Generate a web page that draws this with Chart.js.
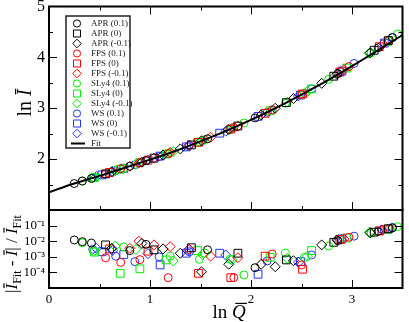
<!DOCTYPE html>
<html>
<head>
<meta charset="utf-8">
<script src="https://cdn.jsdelivr.net/npm/chart.js"></script>
<style>
  html, body { margin: 0; padding: 0; background: #fff; }
  #wrap { position: relative; width: 409px; height: 322px; }
  #wrap canvas { position: absolute; left: 0; top: 0; }
</style>
</head>
<body>
<div id="wrap">
  <canvas id="topChart" width="409" height="322"></canvas>
  <canvas id="errChart" width="409" height="322"></canvas>
</div>
<script>
// ln Q, ln I and relative error, one set of arrays per EOS / spin
var apr01Q = [0.25, 0.33, 0.42, 0.80, 0.96, 1.57, 2.04, 2.86, 3.26, 3.40];
var apr01I = [1.52, 1.57, 1.62, 1.86, 1.97, 2.40, 2.81, 3.68, 4.19, 4.39];
var apr01E = [1.2e-2, 9.3e-3, 7.6e-3, 2.5e-3, 6.3e-3, 2.8e-3, 2.0e-4, 1.1e-2, 4.2e-2, 7.1e-2];

var apr0Q = [0.56, 1.04, 1.41, 1.87, 2.35, 2.82, 3.22, 3.36];
var apr0I = [1.71, 2.02, 2.28, 2.65, 3.11, 3.63, 4.14, 4.33];
var apr0E = [5.8e-3, 2.8e-3, 3.8e-3, 1.7e-3, 6.3e-4, 8.5e-3, 3.8e-2, 6.3e-2];

var aprm01Q = [0.62, 0.92, 1.13, 1.30, 1.51, 1.78, 2.10, 2.24, 2.42, 2.70, 2.85, 3.18];
var aprm01I = [1.75, 1.94, 2.08, 2.20, 2.36, 2.58, 2.87, 3.00, 3.19, 3.49, 3.67, 4.09];
var aprm01E = [3.5e-3, 7.2e-3, 3.2e-3, 1.7e-3, 1.1e-4, 3.3e-4, 3.3e-4, 2.3e-4, 5.6e-4, 5.8e-3, 1.2e-2, 3.5e-2];

var fps01Q = [0.56, 0.71, 0.90, 1.18, 1.83, 2.21, 2.50, 2.97, 3.37];
var fps01I = [1.71, 1.81, 1.93, 2.11, 2.62, 2.97, 3.27, 3.82, 4.34];
var fps01E = [8.7e-4, 4.4e-4, 6.6e-4, 4.6e-5, 4.6e-5, 1.5e-3, 3.0e-4, 1.8e-2, 6.3e-2];

var fps0Q = [0.60, 0.98, 1.48, 1.80, 2.14, 2.51, 2.88, 3.27];
var fps0I = [1.74, 1.98, 2.33, 2.59, 2.90, 3.28, 3.71, 4.21];
var fps0E = [3.2e-3, 2.3e-3, 8.7e-5, 4.6e-5, 1.1e-3, 1.6e-4, 1.3e-2, 4.7e-2];

var fpsm01Q = [0.80, 0.89, 1.04, 1.20, 1.39, 1.60, 1.87, 2.92, 3.30];
var fpsm01I = [1.86, 1.92, 2.02, 2.13, 2.27, 2.43, 2.65, 3.76, 4.25];
var fpsm01E = [3.5e-3, 1.0e-2, 5.8e-3, 4.5e-3, 3.0e-3, 1.1e-3, 8.7e-4, 1.4e-2, 5.0e-2];

var sly01Q = [0.33, 0.44, 0.74, 1.20, 1.49, 1.54, 1.79, 1.93, 2.34, 2.53, 2.77, 3.19, 3.45];
var sly01I = [1.57, 1.64, 1.82, 2.13, 2.34, 2.38, 2.58, 2.71, 3.10, 3.30, 3.57, 4.09, 4.46];
var sly01E = [7.9e-3, 2.3e-3, 4.3e-3, 1.1e-3, 6.9e-4, 1.7e-3, 6.9e-4, 6.8e-5, 1.7e-3, 9.3e-4, 4.9e-3, 3.2e-2, 8.5e-2];

var sly0Q = [0.45, 0.705, 0.90, 1.16, 1.47, 2.19, 2.60, 2.95, 3.35];
var sly0I = [1.64, 1.80, 1.93, 2.10, 2.33, 2.95, 3.38, 3.79, 4.31];
var sly0E = [2.0e-3, 8.7e-5, 1.7e-4, 6.3e-4, 2.5e-3, 9.3e-4, 2.5e-3, 1.6e-2, 5.6e-2];

var slym01Q = [0.655, 0.86, 1.23, 1.52, 1.81, 2.36, 2.56, 3.17];
var slym01I = [1.77, 1.90, 2.15, 2.36, 2.60, 3.12, 3.33, 4.08];
var slym01E = [4.9e-3, 3.0e-3, 5.4e-4, 1.4e-3, 6.3e-4, 7.9e-4, 1.1e-3, 3.7e-2];

var ws01Q = [0.433, 0.66, 0.85, 1.09, 1.39, 2.16, 2.60, 3.02, 3.40];
var ws01I = [1.63, 1.77, 1.89, 2.05, 2.27, 2.92, 3.38, 3.88, 4.39];
var ws01E = [3.0e-3, 1.1e-3, 4.9e-4, 1.0e-3, 2.1e-3, 5.4e-4, 1.3e-3, 2.1e-2, 7.6e-2];

var ws0Q = [0.525, 0.74, 1.10, 1.36, 1.69, 2.07, 2.49, 2.90, 3.32];
var ws0I = [1.69, 1.82, 2.06, 2.24, 2.51, 2.84, 3.26, 3.73, 4.28];
var ws0E = [2.1e-3, 1.4e-3, 3.0e-4, 1.7e-3, 1.7e-3, 7.6e-5, 4.9e-4, 1.4e-2, 5.8e-2];

var wsm01Q = [0.47, 0.63, 0.98, 1.38, 1.75, 2.47, 2.89, 3.30];
var wsm01I = [1.66, 1.76, 1.98, 2.26, 2.55, 3.24, 3.72, 4.25];
var wsm01E = [3.5e-3, 2.5e-3, 1.6e-3, 2.8e-3, 1.3e-3, 4.5e-4, 1.3e-2, 5.2e-2];

// fit curve
var fitQ = [0, 0.25, 0.5, 0.75, 1, 1.25, 1.5, 1.75, 2, 2.25, 2.5, 2.75, 3, 3.25, 3.5];
var fitI = [1.35, 1.52, 1.67, 1.83, 1.99, 2.16, 2.35, 2.55, 2.77, 3.01, 3.27, 3.54, 3.83, 4.13, 4.44];

// tick labels
var xTickLabels = [0, 1, 2, 3];
var topTickLabels = [2, 3, 4, 5];
var errTickValues = [1e-4, 1e-3, 1e-2, 1e-1];

var series = [
  {label: 'APR (0.1)',   q: apr01Q,  i: apr01I,  e: apr01E,  color: '#000000', shape: 'circle'},
  {label: 'APR (0)',     q: apr0Q,   i: apr0I,   e: apr0E,   color: '#000000', shape: 'rect'},
  {label: 'APR (-0.1)',  q: aprm01Q, i: aprm01I, e: aprm01E, color: '#000000', shape: 'rectRot'},
  {label: 'FPS (0.1)',   q: fps01Q,  i: fps01I,  e: fps01E,  color: '#ff0000', shape: 'circle'},
  {label: 'FPS (0)',     q: fps0Q,   i: fps0I,   e: fps0E,   color: '#ff0000', shape: 'rect'},
  {label: 'FPS (-0.1)',  q: fpsm01Q, i: fpsm01I, e: fpsm01E, color: '#ff0000', shape: 'rectRot'},
  {label: 'SLy4 (0.1)',  q: sly01Q,  i: sly01I,  e: sly01E,  color: '#00ee00', shape: 'circle'},
  {label: 'SLy4 (0)',    q: sly0Q,   i: sly0I,   e: sly0E,   color: '#00ee00', shape: 'rect'},
  {label: 'SLy4 (-0.1)', q: slym01Q, i: slym01I, e: slym01E, color: '#00ee00', shape: 'rectRot'},
  {label: 'WS (0.1)',    q: ws01Q,   i: ws01I,   e: ws01E,   color: '#2233ff', shape: 'circle'},
  {label: 'WS (0)',      q: ws0Q,    i: ws0I,    e: ws0E,    color: '#2233ff', shape: 'rect'},
  {label: 'WS (-0.1)',   q: wsm01Q,  i: wsm01I,  e: wsm01E,  color: '#2233ff', shape: 'rectRot'}
];

var markerRadius = {circle: 4, rect: 5.5, rectRot: 5};
var serif = "'Liberation Serif', serif";
Chart.defaults.font.family = serif;

function pts(xs, ys) {
  return xs.map(function(x, k) { return {x: x, y: ys[k]}; });
}

function pointSet(s, ys) {
  return {
    label: s.label,
    data: pts(s.q, ys),
    showLine: false,
    pointStyle: s.shape,
    pointRadius: markerRadius[s.shape],
    pointBorderWidth: 1,
    borderColor: s.color,
    backgroundColor: 'rgba(0,0,0,0)'
  };
}

// inward tick marks and the box around a panel
function framePlugin(cfg) {
  return {
    id: 'frame',
    afterDraw: function(chart) {
      var ctx = chart.ctx, a = chart.chartArea;
      var xs = chart.scales.x, ys = chart.scales.y;
      ctx.save();
      ctx.strokeStyle = '#000';
      ctx.lineWidth = 1;
      function xt(list, len) {
        list.forEach(function(v) {
          var px = Math.round(xs.getPixelForValue(v)) + 0.5;
          ctx.beginPath();
          ctx.moveTo(px, a.bottom); ctx.lineTo(px, a.bottom - len);
          if (cfg.topTicks) { ctx.moveTo(px, a.top); ctx.lineTo(px, a.top + len); }
          ctx.stroke();
        });
      }
      function yt(list, len) {
        list.forEach(function(v) {
          var py = Math.round(ys.getPixelForValue(v)) + 0.5;
          ctx.beginPath();
          ctx.moveTo(a.left, py); ctx.lineTo(a.left + len, py);
          ctx.moveTo(a.right, py); ctx.lineTo(a.right - len, py);
          ctx.stroke();
        });
      }
      xt(cfg.xMajor, 8); xt(cfg.xMinor, 4);
      yt(cfg.yMajor, 8); yt(cfg.yMinor, 4);
      ctx.lineWidth = 2;
      ctx.strokeRect(a.left, a.top, a.right - a.left, a.bottom - a.top);
      ctx.restore();
    }
  };
}

function drawMarker(ctx, shape, x, y, color) {
  ctx.strokeStyle = color;
  ctx.lineWidth = 1;
  ctx.beginPath();
  if (shape === 'circle') {
    ctx.arc(x, y, 3.6, 0, Math.PI * 2);
  } else if (shape === 'rect') {
    ctx.rect(x - 3.5, y - 3.5, 7, 7);
  } else {
    ctx.moveTo(x, y - 4.3); ctx.lineTo(x + 4.3, y); ctx.lineTo(x, y + 4.3); ctx.lineTo(x - 4.3, y); ctx.closePath();
  }
  ctx.stroke();
}

var legendPlugin = {
  id: 'boxLegend',
  afterDraw: function(chart) {
    var ctx = chart.ctx;
    ctx.save();
    ctx.fillStyle = '#fff';
    ctx.fillRect(66, 16, 64, 132);
    ctx.strokeStyle = '#222';
    ctx.lineWidth = 1.5;
    ctx.strokeRect(66, 16, 64, 132);
    ctx.font = '9px ' + serif;
    ctx.textBaseline = 'middle';
    series.forEach(function(s, k) {
      var y = 23.5 + k * 10;
      drawMarker(ctx, s.shape, 77, y, s.color);
      ctx.fillStyle = '#222';
      ctx.fillText(s.label, 91, y + 0.5);
    });
    var fy = 23.5 + 12 * 10;
    ctx.strokeStyle = '#000';
    ctx.lineWidth = 2;
    ctx.beginPath(); ctx.moveTo(71, fy); ctx.lineTo(85, fy); ctx.stroke();
    ctx.fillStyle = '#222';
    ctx.fillText('Fit', 91, fy + 0.5);
    ctx.restore();
  }
};

// mixed-font axis titles
function drawTitle(ctx, parts, x, y, rot) {
  ctx.save();
  ctx.translate(x, y);
  if (rot) ctx.rotate(-Math.PI / 2);
  ctx.textBaseline = 'alphabetic';
  ctx.fillStyle = '#000';
  var total = 0;
  parts.forEach(function(p) { ctx.font = p.font; p.w = ctx.measureText(p.t).width; total += p.w; });
  var cx = -total / 2;
  parts.forEach(function(p) {
    ctx.font = p.font;
    ctx.fillText(p.t, cx, p.dy || 0);
    if (p.bar) {
      ctx.fillRect(cx + p.w * 0.25, -p.size * 0.8, p.w * 0.85, 1.2);
    }
    cx += p.w;
  });
  ctx.restore();
}

var titlePlugin = {
  id: 'titles',
  afterDraw: function(chart) {
    var ctx = chart.ctx;
    var big = '20px ' + serif, bigI = 'italic 20px ' + serif;
    drawTitle(ctx, [
      {t: 'ln ', font: big},
      {t: 'I', font: bigI, bar: true, size: 20}
    ], 31, 103, true);
    var mid = '17px ' + serif, midI = 'italic 17px ' + serif, sub = '12px ' + serif;
    drawTitle(ctx, [
      {t: '|', font: mid},
      {t: 'I', font: midI, bar: true, size: 17},
      {t: 'Fit', font: sub, dy: 4},
      {t: ' - ', font: mid},
      {t: 'I', font: midI, bar: true, size: 17},
      {t: '| / ', font: mid},
      {t: 'I', font: midI, bar: true, size: 17},
      {t: 'Fit', font: sub, dy: 4}
    ], 17, 254, true);
    drawTitle(ctx, [
      {t: 'ln ', font: '19px ' + serif},
      {t: 'Q', font: 'italic 19px ' + serif, bar: true, size: 19}
    ], 229, 318, false);
  }
};

var fitSet = {
  label: 'Fit',
  data: pts(fitQ, fitI),
  showLine: true,
  borderColor: '#000',
  borderWidth: 2,
  pointRadius: 0,
  cubicInterpolationMode: 'monotone'
};

var topSets = [fitSet].concat(series.map(function(s) { return pointSet(s, s.i); }));
var errSets = series.map(function(s) { return pointSet(s, s.e); });

var sup = {'-': '\u207B', '1': '\u00B9', '2': '\u00B2', '3': '\u00B3', '4': '\u2074', '5': '\u2075'};

new Chart(document.getElementById('topChart'), {
  type: 'scatter',
  data: { datasets: topSets },
  options: {
    responsive: false,
    animation: false,
    devicePixelRatio: 1,
    events: [],
    layout: { padding: { left: 0, right: 2, top: 5, bottom: 112 } },
    plugins: { legend: { display: false }, tooltip: { enabled: false } },
    scales: {
      x: { type: 'linear', min: 0, max: 3.5, display: false },
      y: {
        type: 'linear', min: 1, max: 5,
        grid: { display: false, drawTicks: false },
        border: { display: false },
        ticks: {
          stepSize: 1, padding: 4, color: '#000',
          font: { family: serif, size: 16 },
          callback: function(v) { return topTickLabels.indexOf(v) >= 0 ? String(v) : ''; }
        },
        afterFit: function(s) { s.width = 49; s.paddingTop = 0; s.paddingBottom = 0; }
      }
    }
  },
  plugins: [framePlugin({ topTicks: true, xMajor: [1, 2, 3], xMinor: [0.5, 1.5, 2.5],
    yMajor: [2, 3, 4], yMinor: [1.5, 2.5, 3.5, 4.5] }), legendPlugin]
});

new Chart(document.getElementById('errChart'), {
  type: 'scatter',
  data: { datasets: errSets },
  options: {
    responsive: false,
    animation: false,
    devicePixelRatio: 1,
    events: [],
    layout: { padding: { left: 0, right: 2, top: 210, bottom: 0 } },
    plugins: { legend: { display: false }, tooltip: { enabled: false } },
    scales: {
      x: {
        type: 'linear', min: 0, max: 3.5,
        grid: { display: false, drawTicks: false },
        border: { display: false },
        ticks: {
          stepSize: 1, padding: 4, color: '#000', maxRotation: 0,
          font: { family: serif, size: 13 },
          callback: function(v) { return xTickLabels.indexOf(v) >= 0 ? String(v) : ''; }
        },
        afterFit: function(s) { s.height = 34; s.paddingLeft = 0; s.paddingRight = 0; }
      },
      y: {
        type: 'logarithmic', min: 1e-5, max: 1,
        grid: { display: false, drawTicks: false },
        border: { display: false },
        afterBuildTicks: function(s) { s.ticks = errTickValues.map(function(v) { return {value: v}; }); },
        ticks: {
          padding: 4, color: '#000',
          font: { family: serif, size: 13 },
          callback: function(v) {
            var p = String(Math.round(Math.log10(v)));
            return '10' + p.split('').map(function(c) { return sup[c]; }).join('');
          }
        },
        afterFit: function(s) { s.width = 49; s.paddingTop = 0; s.paddingBottom = 0; }
      }
    }
  },
  plugins: [framePlugin({ topTicks: false, xMajor: [1, 2, 3], xMinor: [0.5, 1.5, 2.5],
    yMajor: errTickValues, yMinor: [] }), titlePlugin]
});
</script>
</body>
</html>
